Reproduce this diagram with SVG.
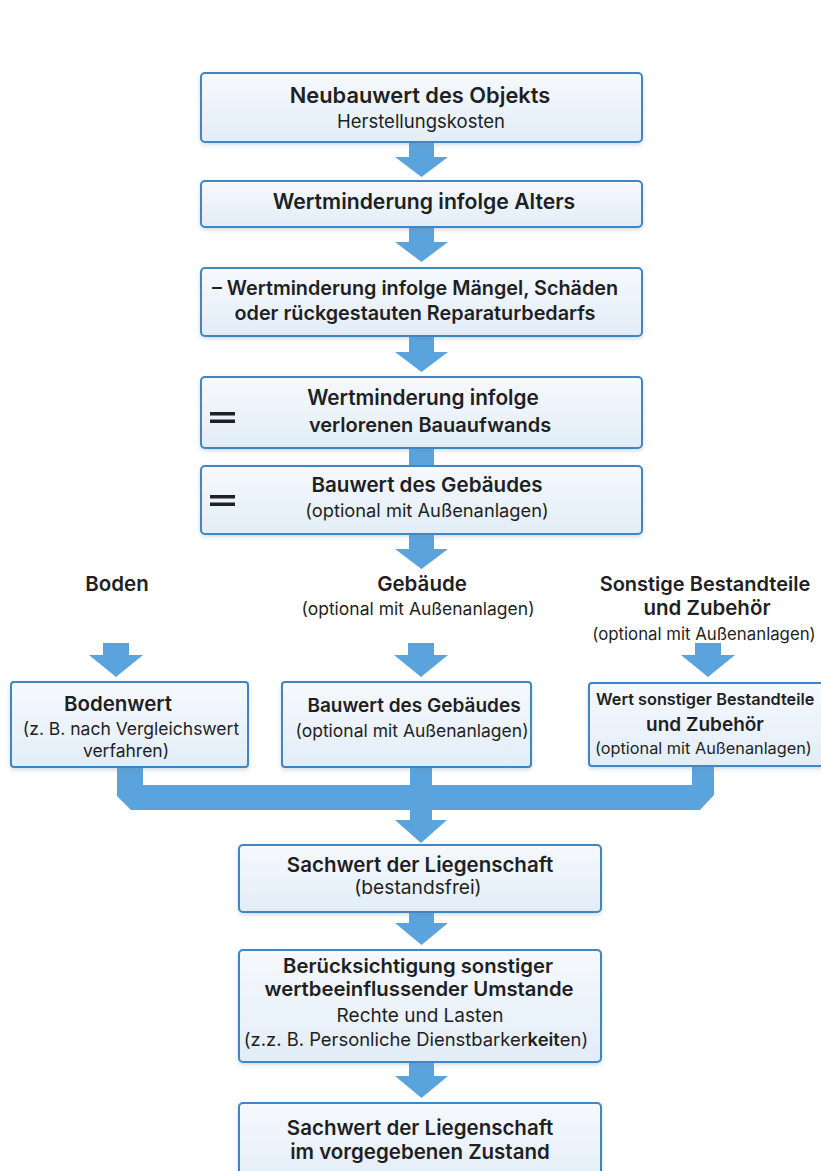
<svg xmlns="http://www.w3.org/2000/svg" width="821" height="1171" viewBox="0 0 821 1171">
<defs>
<linearGradient id="bg" x1="0" y1="0" x2="0" y2="1">
<stop offset="0" stop-color="#f6f9fd"/>
<stop offset="1" stop-color="#e2edf7"/>
</linearGradient>
<filter id="sh" x="-5%" y="-10%" width="110%" height="130%">
<feDropShadow dx="0" dy="2" stdDeviation="2" flood-color="#6a8aa8" flood-opacity="0.3"/>
</filter>
<style>
.box{fill:url(#bg);stroke:#3f86c2;stroke-width:2;filter:url(#sh)}
.arr{fill:#5ba3dc}
text{font-family:Inter,"Open Sans","Liberation Sans",sans-serif;fill:#1f1f24;text-anchor:middle}
.t{font-size:20.8px;font-weight:600}
.s{font-size:18.5px;font-weight:400}
.t2{font-size:20.5px;font-weight:600}
.s2{font-size:17.5px;font-weight:400}
.st{text-anchor:start}
.eq{fill:#1f1f24}
</style>
</defs>
<rect width="821" height="1171" fill="#ffffff"/>

<g id="connectors">
<path class="arr" d="M409,142 H434 V157 H448 L421.5,177 L395,157 H409 Z"/>
<path class="arr" d="M409,227 H434 V242 H448 L421.5,262 L395,242 H409 Z"/>
<path class="arr" d="M409,336 H434 V352 H448 L421.5,372 L395,352 H409 Z"/>
<path class="arr" d="M409,448 H434 V466 H409 Z"/>
<path class="arr" d="M409,534 H434 V549 H448 L421.5,569 L395,549 H409 Z"/>
<path class="arr" d="M103,643 H129 V655 H143 L116,677 L89,655 H103 Z"/>
<path class="arr" d="M408,643 H434 V655 H448 L421,677 L394,655 H408 Z"/>
<path class="arr" d="M695,643 H721 V655 H735 L708,677 L681,655 H695 Z"/>
<path class="arr" d="M117,767 H143 V785 H410 V767 H432 V785 H692 V766 H714 V795 L700,810 H432 V820 H447 L421,843 L395,820 H410 V810 H131 L117,796 Z"/>
<path class="arr" d="M409,912 H434 V923 H448 L421.5,945 L395,923 H409 Z"/>
<path class="arr" d="M409,1062 H434 V1076 H448 L421.5,1098 L395,1076 H409 Z"/>
</g>

<g id="n1">
<rect class="box" x="201" y="73" width="441" height="69" rx="4"/>
<text class="t" x="420" y="103" style="font-size:21.8px">Neubauwert des Objekts</text>
<text class="s" x="421" y="128">Herstellungskosten</text>
</g>
<g id="n2">
<rect class="box" x="201" y="181" width="441" height="46" rx="4"/>
<text class="t" x="424" y="209" style="font-size:21.2px">Wertminderung infolge Alters</text>
</g>
<g id="n3">
<rect class="box" x="201" y="268" width="441" height="68" rx="4"/>
<text class="t" x="415" y="295" style="font-size:19.8px">– Wertminderung infolge Mängel, Schäden</text>
<text class="t" x="415" y="320" style="font-size:19.8px">oder rückgestauten Reparaturbedarfs</text>
</g>
<g id="n4">
<rect class="box" x="201" y="377" width="441" height="71" rx="4"/>
<rect class="eq" x="210" y="412" width="25" height="3.5"/>
<rect class="eq" x="210" y="419.5" width="25" height="3.5"/>
<text class="t" x="423" y="405" style="font-size:20.8px">Wertminderung infolge</text>
<text class="t" x="430" y="432" style="font-size:20px">verlorenen Bauaufwands</text>
</g>
<g id="n5">
<rect class="box" x="201" y="466" width="441" height="68" rx="4"/>
<rect class="eq" x="210" y="495" width="25" height="3.5"/>
<rect class="eq" x="210" y="502.5" width="25" height="3.5"/>
<text class="t" x="427" y="492" style="font-size:20.6px">Bauwert des Gebäudes</text>
<text class="s" x="427" y="517" style="font-size:18.3px">(optional mit Außenanlagen)</text>
</g>

<g id="l-boden">
<text class="t2" x="117" y="591">Boden</text>
</g>
<g id="l-gebaeude">
<text class="t2" x="422" y="591">Gebäude</text>
<text class="s2" x="418" y="615">(optional mit Außenanlagen)</text>
</g>
<g id="l-sonstige">
<text class="t2" x="705" y="591" style="font-size:20px">Sonstige Bestandteile</text>
<text class="t2" x="707" y="615">und Zubehör</text>
<text class="s2" x="704" y="640" style="font-size:16.8px">(optional mit Außenanlagen)</text>
</g>

<g id="n-bodenwert">
<rect class="box" x="11" y="682" width="237" height="85" rx="3"/>
<text class="t2" x="118" y="711">Bodenwert</text>
<text class="s2" x="131" y="735">(z. B. nach Vergleichswert</text>
<text class="s2" x="126" y="757">verfahren)</text>
</g>
<g id="n-bauwert">
<rect class="box" x="282" y="682" width="249" height="85" rx="3"/>
<text class="t2" x="414" y="712" style="font-size:19px">Bauwert des Gebäudes</text>
<text class="s2" x="412" y="737">(optional mit Außenanlagen)</text>
</g>
<g id="n-sonstige">
<rect class="box" x="589" y="683" width="245" height="83" rx="3"/>
<text class="t2 st" x="596" y="705" style="font-size:16.3px">Wert sonstiger Bestandteile</text>
<text class="t2" x="705" y="731" style="font-size:19px">und Zubehör</text>
<text class="s2 st" x="595" y="754" style="font-size:16.3px">(optional mit Außenanlagen)</text>
</g>

<g id="n-sachwert1">
<rect class="box" x="239" y="845" width="362" height="67" rx="4"/>
<text class="t" x="420" y="872" style="font-size:20.5px">Sachwert der Liegenschaft</text>
<text class="s" x="418" y="894" style="font-size:19.2px">(bestandsfrei)</text>
</g>
<g id="n-beruecksichtigung">
<rect class="box" x="239" y="950" width="362" height="112" rx="4"/>
<text class="t" x="418" y="973" style="font-size:20.3px">Berücksichtigung sonstiger</text>
<text class="t" x="419" y="996" style="font-size:20.3px">wertbeeinflussender Umstande</text>
<text class="s" x="420" y="1022" style="font-size:19px">Rechte und Lasten</text>
<text class="s" x="416" y="1046" style="font-size:18.4px">(z.z. B. Personliche Dienstbarker<tspan font-weight="600">keit</tspan>en)</text>
</g>
<g id="n-sachwert2">
<rect class="box" x="239" y="1103" width="362" height="80" rx="4"/>
<text class="t" x="420" y="1135" style="font-size:20.5px">Sachwert der Liegenschaft</text>
<text class="t" x="420" y="1159" style="font-size:20.5px">im vorgegebenen Zustand</text>
</g>
</svg>
